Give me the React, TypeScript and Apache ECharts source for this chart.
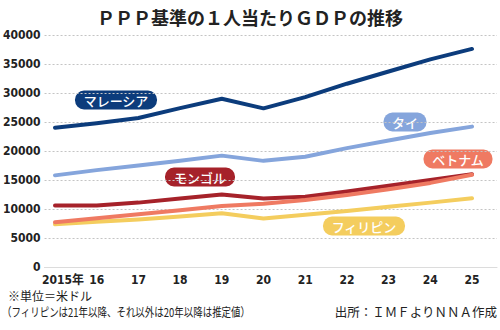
import React, { useEffect, useRef } from "react";
import * as echarts from "echarts";

const years = ["2015", "2016", "2017", "2018", "2019", "2020", "2021", "2022", "2023", "2024", "2025"];
const yearLabels = ["2015年", "16", "17", "18", "19", "20", "21", "22", "23", "24", "25"];
const malaysia = [24000, 24800, 25700, 27400, 29000, 27350, 29300, 31600, 33700, 35800, 37600];
const thailand = [15800, 16700, 17500, 18300, 19200, 18300, 19000, 20500, 21800, 23100, 24200];
const mongolia = [10600, 10600, 11100, 11800, 12500, 11800, 12100, 13000, 14000, 15000, 16000];
const vietnam = [7700, 8400, 9100, 9800, 10500, 10900, 11550, 12400, 13400, 14500, 15900];
const philippines = [7350, 7800, 8200, 8700, 9250, 8350, 9000, 9650, 10400, 11100, 11850];
const seriesNames = ["マレーシア", "タイ", "モンゴル", "ベトナム", "フィリピン"];
const titleText = "ＰＰＰ基準の１人当たりＧＤＰの推移";
const noteUnit = "※単位＝米ドル";
const noteEstimate = "（フィリピンは21年以降、それ以外は20年以降は推定値）";
const noteSource = "出所：ＩＭＦよりＮＮＡ作成";

const C_MY = "#0c3c7c";
const C_TH = "#85a5dc";
const C_MN = "#a6222a";
const C_VN = "#ef7a62";
const C_PH = "#f4cd5e";
const JP = "'Noto Sans CJK JP', sans-serif";
const NUM = "'DejaVu Sans Condensed', 'Noto Sans CJK JP', sans-serif";

function badge(text: string, cx: number, cy: number, w: number, color: string) {
  const h = 19;
  return {
    type: "group",
    children: [
      {
        type: "rect",
        shape: { x: cx - w / 2, y: cy - h / 2, width: w, height: h, r: 9 },
        style: { fill: color },
      },
      {
        type: "text",
        x: cx,
        y: cy,
        style: {
          text,
          fill: "#fff",
          font: `500 13px ${JP}`,
          align: "center",
          verticalAlign: "middle",
        },
      },
    ],
  };
}

export default function App() {
  const ref = useRef<HTMLDivElement>(null);
  useEffect(() => {
    if (!ref.current) return;
    const chart = echarts.init(ref.current, null, { renderer: "svg" });
    const lineSeries = (name: string, data: number[], color: string) => ({
      name,
      type: "line",
      xAxisIndex: 1,
      yAxisIndex: 1,
      data,
      symbol: "none",
      lineStyle: { color, width: 4, cap: "round", join: "round" },
      itemStyle: { color },
    });
    chart.setOption({
      animation: false,
      title: {
        text: titleText,
        left: "center",
        top: 3,
        textStyle: { fontFamily: JP, fontSize: 18, fontWeight: "bold", color: "#222" },
      },
      grid: [
        { left: 43, right: 3, top: 35, bottom: 63 },
        { left: 55, right: 28, top: 35, bottom: 63 },
      ],
      xAxis: [
        {
          gridIndex: 0,
          type: "value",
          min: 0,
          max: 1,
          axisLine: { show: true, lineStyle: { color: "#dcdcdc", width: 1 } },
          axisTick: { show: false },
          axisLabel: { show: false },
          splitLine: { show: false },
        },
        {
          gridIndex: 1,
          type: "category",
          data: years,
          boundaryGap: false,
          axisLine: { show: false },
          axisTick: { show: false },
          splitLine: { show: false },
          axisLabel: {
            margin: 7,
            interval: 0,
            color: "#222",
            fontFamily: NUM,
            fontSize: 12,
            lineHeight: 12,
            fontWeight: "bold",
            formatter: (_v: string, i: number) => (i === 0 ? "{f|" + yearLabels[0] + "}" : yearLabels[i]),
            rich: {
              f: {
                padding: [0, 0, 0, 16],
                fontFamily: NUM,
                fontSize: 12,
                lineHeight: 12,
                fontWeight: "bold",
                color: "#222",
              },
            },
          },
        },
      ],
      yAxis: [
        {
          gridIndex: 0,
          type: "value",
          min: 0,
          max: 40000,
          interval: 5000,
          axisLine: { show: false },
          axisTick: { show: false },
          axisLabel: {
            margin: 4,
            color: "#222",
            fontFamily: NUM,
            fontSize: 12,
            fontWeight: "bold",
            formatter: (v: number) => String(v),
          },
          splitLine: { show: true, lineStyle: { color: "#c4c4c4", type: [2, 2], width: 1 } },
        },
        {
          gridIndex: 1,
          type: "value",
          min: 0,
          max: 40000,
          interval: 5000,
          show: false,
          splitLine: { show: false },
        },
      ],
      series: [
        lineSeries(seriesNames[4], philippines, C_PH),
        lineSeries(seriesNames[1], thailand, C_TH),
        lineSeries(seriesNames[2], mongolia, C_MN),
        lineSeries(seriesNames[3], vietnam, C_VN),
        lineSeries(seriesNames[0], malaysia, C_MY),
      ],
      graphic: [
        badge(seriesNames[0], 116, 100, 82, C_MY),
        badge(seriesNames[1], 405, 122, 43, C_TH),
        badge(seriesNames[2], 200, 177, 70, C_MN),
        badge(seriesNames[3], 458, 159, 69, C_VN),
        badge(seriesNames[4], 364, 226, 82, C_PH),
        {
          type: "text",
          x: 8,
          y: 295,
          style: { text: noteUnit, fill: "#222", font: `12px ${JP}`, verticalAlign: "middle" },
        },
        {
          type: "text",
          x: 2,
          y: 311,
          scaleX: 0.79,
          style: { text: noteEstimate, fill: "#222", font: `12px ${JP}`, verticalAlign: "middle" },
        },
        {
          type: "text",
          x: 497,
          y: 311,
          style: { text: noteSource, fill: "#222", font: `12.5px ${JP}`, align: "right", verticalAlign: "middle" },
        },
      ],
    });
    return () => chart.dispose();
  }, []);
  return (
    <div
      ref={ref}
      style={{ position: "fixed", left: 0, top: 0, width: 500, height: 330, background: "#fff" }}
    />
  );
}
